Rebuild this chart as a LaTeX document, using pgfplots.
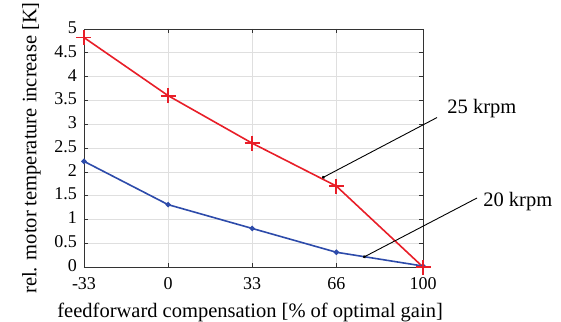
\documentclass[border=0pt]{standalone}
\usepackage{fontspec}
\setmainfont{Liberation Serif}
\usepackage{pgfplots}
\pgfplotsset{compat=1.18}
\usetikzlibrary{arrows.meta}
\definecolor{myred}{RGB}{232,30,40}
\definecolor{myblue}{RGB}{45,75,170}
\begin{document}
\begin{tikzpicture}
\useasboundingbox (-84pt,-54pt) rectangle (477pt,267pt);
\begin{axis}[
  scale only axis, width=339pt, height=238pt,
  at={(0,0)}, anchor=south west,
  xmin=-33, xmax=100, ymin=0, ymax=5,
  xtick={-33,0,33,66,100},
  ytick={0,0.5,1,1.5,2,2.5,3,3.5,4,4.5,5},
  yticklabels={0,0.5,1,1.5,2,2.5,3,3.5,4,4.5,5},
  xticklabels={-33,0,33,66,100},
  /pgf/number format/assume math mode=true,
  tick align=inside, tick pos=both,
  major tick length=4pt,
  grid=major, major grid style={gray!25, line width=0.6pt},
  axis line style={black!80, line width=0.8pt},
  every tick/.style={black!80, line width=0.6pt},
  tick label style={font=\fontsize{18}{20}\selectfont, inner sep=1pt},
  label style={font=\fontsize{20.5}{23}\selectfont},
  xlabel={feedforward compensation [\% of optimal gain]},
  ylabel={rel. motor temperature increase [K]},
  xlabel style={at={(axis description cs:0.49,-0.19)}, anchor=center},
  ylabel style={at={(axis description cs:-0.155,0.5)}, anchor=center},
  xticklabel style={yshift=-9pt},
  yticklabel style={xshift=-6pt, yshift=1.5pt},
  clip=false,
]
\addplot[myblue, line width=1.6pt, mark=*, mark size=1.8pt] coordinates {
  (-33,2.22) (0,1.31) (33,0.81) (66,0.31) (100,0.02)};
\addplot[myred, line width=1.6pt, mark=+, mark size=7.5pt, mark options={line width=1.8pt}] coordinates {
  (-33,4.82) (0,3.6) (33,2.6) (66,1.7) (100,0.0)};
\draw[black, line width=0.9pt, {Circle[length=3pt]}-] (axis cs:60.4,1.87) -- (axis cs:105.5,3.14);
\node[anchor=west, font=\fontsize{20.5}{23}\selectfont, inner sep=0pt] at (axis cs:109.5,3.33) {25 krpm};
\draw[black, line width=0.9pt, {Circle[length=3pt]}-] (axis cs:76.5,0.2) -- (axis cs:121.2,1.45);
\node[anchor=west, font=\fontsize{20.5}{23}\selectfont, inner sep=0pt] at (axis cs:123.6,1.38) {20 krpm};
\end{axis}
\end{tikzpicture}
\end{document}
